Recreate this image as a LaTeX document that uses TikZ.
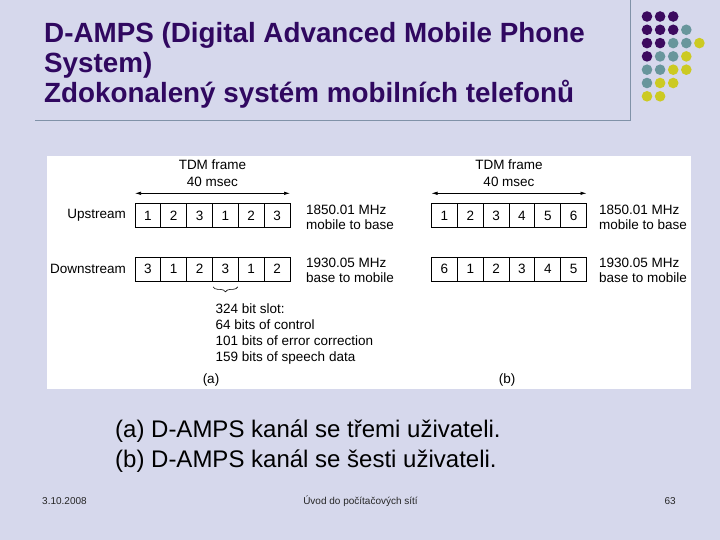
\documentclass[tikz,border=0pt]{standalone}
\usepackage{fontspec}
\setmainfont{Liberation Sans}
\usetikzlibrary{decorations.pathreplacing,arrows.meta}
\definecolor{bg}{RGB}{214,216,236}
\definecolor{titlecol}{RGB}{48,8,96}
\definecolor{rulecol}{RGB}{128,146,168}
\definecolor{dotpurple}{RGB}{60,10,95}
\definecolor{dotteal}{RGB}{104,150,156}
\definecolor{dotyellow}{RGB}{204,202,34}
\tikzset{
  cell/.style={draw=black, line width=0.8pt, minimum width=25.833pt, minimum height=24pt, inner sep=0pt, font=\fontsize{13.5}{16}\selectfont},
  lbl/.style={inner sep=0pt, font=\fontsize{13.5}{16}\selectfont},
  tdmarrow/.style={line width=0.7pt, {Latex[length=6pt,width=3.5pt]}-{Latex[length=6pt,width=3.5pt]}},
  titletext/.style={inner sep=0pt, anchor=base west, text=titlecol, font=\fontsize{27.8}{30}\selectfont\bfseries},
  captext/.style={inner sep=0pt, anchor=base west, font=\fontsize{24}{28}\selectfont},
  foot/.style={inner sep=0pt, text=black!85, font=\fontsize{10}{12}\selectfont},
  dot/.style={circle, inner sep=0pt, minimum size=10.6pt}
}
\begin{document}
\begin{tikzpicture}[x=1pt,y=-1pt]
\useasboundingbox (0,0) rectangle (720,540);
\fill[bg] (0,0) rectangle (720,540);

% title
\node[titletext] (t1) at (44,43) {D-AMPS (Digital Advanced Mobile Phone};
\node[titletext] (t2) at (44,72.5) {System)};
\node[titletext] (t3) at (44,103) {Zdokonalený systém mobilních telefonů};

% rules
\draw[rulecol, line width=0.9pt] (35,120) -- (630.7,120) -- (630.7,0);

% dots
\foreach \c/\r/\col in {
  1/1/dotpurple,2/1/dotpurple,3/1/dotpurple,
  1/2/dotpurple,2/2/dotpurple,3/2/dotpurple,4/2/dotteal,
  1/3/dotpurple,2/3/dotpurple,3/3/dotteal,4/3/dotteal,5/3/dotyellow,
  1/4/dotpurple,2/4/dotteal,3/4/dotteal,4/4/dotyellow,
  1/5/dotteal,2/5/dotteal,3/5/dotyellow,4/5/dotyellow,
  1/6/dotteal,2/6/dotyellow,3/6/dotyellow,
  1/7/dotyellow,2/7/dotyellow}
  \node[dot, fill=\col] (d\c\r) at ({647+13.1*(\c-1)},{16.5+13.3*(\r-1)}) {};

% white picture area
\fill[white] (47,156) rectangle (690.5,389);

% (a)
\node[lbl] (tdma1) at (212.5,165) {TDM frame};
\node[lbl] (tdma2) at (212.5,181.5) {40 msec};
\coordinate (aL) at (135,193.3);
\coordinate (aR) at (290,193.3);
\draw[tdmarrow] (aL) -- (aR);
\node[lbl, anchor=base east] (upa) at (126,218.8) {Upstream};
\node[lbl, anchor=base east] (dna) at (126,273) {Downstream};
\foreach \i/\v in {1/1,2/2,3/3,4/1,5/2,6/3}
  \node[cell] (ua\i) at ({135+25.833*(\i-0.5)},215.5) {\v};
\foreach \i/\v in {1/3,2/1,3/2,4/3,5/1,6/2}
  \node[cell] (da\i) at ({135+25.833*(\i-0.5)},269) {\v};
\node[lbl, anchor=base west] (fa1) at (306,214.8) {1850.01 MHz};
\node[lbl, anchor=base west] (fa2) at (306,229.8) {mobile to base};
\node[lbl, anchor=base west] (fa3) at (306,267) {1930.05 MHz};
\node[lbl, anchor=base west] (fa4) at (306,282) {base to mobile};
\coordinate (brL) at ([xshift=1pt,yshift=-5.5pt]da4.south west);
\coordinate (brR) at ([xshift=-1pt,yshift=-5.5pt]da4.south east);
\draw[line width=0.6pt, decorate, decoration={brace, mirror, amplitude=5pt}] (brL) -- (brR);
\node[lbl, anchor=base west] (s1) at (215.5,313.5) {324 bit slot:};
\node[lbl, anchor=base west] (s2) at (215.5,329.5) {64 bits of control};
\node[lbl, anchor=base west] (s3) at (215.5,345.5) {101 bits of error correction};
\node[lbl, anchor=base west] (s4) at (215.5,361.5) {159 bits of speech data};
\node[lbl] (capa) at (211,380.5) {(a)};

% (b)
\node[lbl] (tdmb1) at (509,165) {TDM frame};
\node[lbl] (tdmb2) at (509,181.5) {40 msec};
\coordinate (bL) at (431.5,193.3);
\coordinate (bR) at (586.5,193.3);
\draw[tdmarrow] (bL) -- (bR);
\foreach \i/\v in {1/1,2/2,3/3,4/4,5/5,6/6}
  \node[cell] (ub\i) at ({431.5+25.833*(\i-0.5)},215.5) {\v};
\foreach \i/\v in {1/6,2/1,3/2,4/3,5/4,6/5}
  \node[cell] (db\i) at ({431.5+25.833*(\i-0.5)},269) {\v};
\node[lbl, anchor=base west] (fb1) at (599,214.8) {1850.01 MHz};
\node[lbl, anchor=base west] (fb2) at (599,229.8) {mobile to base};
\node[lbl, anchor=base west] (fb3) at (599,267) {1930.05 MHz};
\node[lbl, anchor=base west] (fb4) at (599,282) {base to mobile};
\node[lbl] (capb) at (507,380.5) {(b)};

% caption
\node[captext] (c1) at (115,437) {(a) D-AMPS kanál se třemi uživateli.};
\node[captext] (c2) at (115,467) {(b) D-AMPS kanál se šesti uživateli.};

% footer
\node[foot, anchor=west] (f1) at (42,501) {3.10.2008};
\node[foot] (f2) at (360.5,501) {Úvod do počítačových sítí};
\node[foot, anchor=east] (f3) at (676,501) {63};
\end{tikzpicture}
\end{document}
